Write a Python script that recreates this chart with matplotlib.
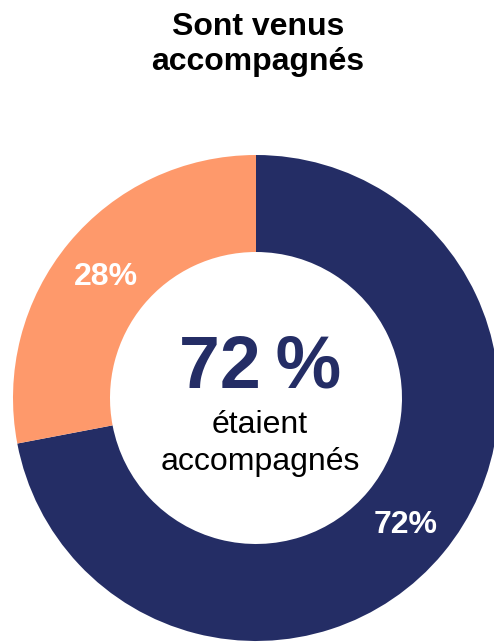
import matplotlib.pyplot as plt

plt.rcParams['font.family'] = ['Liberation Sans', 'DejaVu Sans']

# data
categories = ["accompagnés", "non accompagnés"]
values = [72, 28]
colors = ["#242D65", "#FE996B"]
slice_labels = ["72%", "28%"]

fig = plt.figure(figsize=(4.94, 6.44), dpi=100)
ax = fig.add_axes([0, 0, 1, 1])
ax.set_xlim(0, 494)
ax.set_ylim(0, 644)
ax.set_aspect('equal')
ax.axis('off')

cx, cy, r = 256, 644 - 398, 243
wedges, _ = ax.pie(values, colors=colors, startangle=90, counterclock=False,
                   center=(cx, cy), radius=r,
                   wedgeprops=dict(width=97, linewidth=0))
ax.set_xlim(0, 494)
ax.set_ylim(0, 644)

# slice labels
ax.text(406, 644 - 525, slice_labels[0], color="white", fontsize=23,
        fontweight="bold", ha="center", va="center")
ax.text(106, 644 - 277, slice_labels[1], color="white", fontsize=23,
        fontweight="bold", ha="center", va="center")

# centre text
ax.text(260, 644 - 387, f"{values[0]}\u2009%", color=colors[0], fontsize=53,
        fontweight="bold", ha="center", va="baseline")
ax.text(260, 644 - 433, "étaient", color="black", fontsize=23,
        ha="center", va="baseline")
ax.text(260, 644 - 470, "accompagnés", color="black", fontsize=23,
        ha="center", va="baseline")

# title
fig.text(258, 644 - 35, "Sont venus", transform=ax.transData, fontsize=23,
         fontweight="bold", ha="center", va="baseline")
fig.text(258, 644 - 70, "accompagnés", transform=ax.transData, fontsize=23,
         fontweight="bold", ha="center", va="baseline")

fig.savefig("out.png", dpi=100)
